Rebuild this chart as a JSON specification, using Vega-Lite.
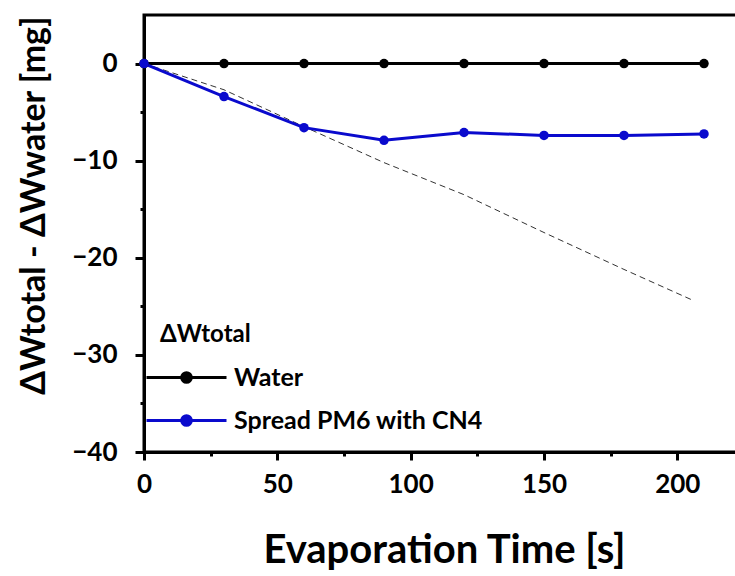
{
  "$schema": "https://vega.github.io/schema/vega-lite/v6.json",
  "width": 600,
  "height": 437,
  "padding": {"left": 17, "top": 15, "right": 0, "bottom": 5},
  "background": "white",
  "config": {
    "view": {"stroke": "black", "strokeWidth": 3},
    "font": "Lato",
    "axis": {"grid": false}
  },
  "datasets": {
    "main": [
      {"series": "Water", "t": 0, "v": 0},
      {"series": "Water", "t": 30, "v": 0},
      {"series": "Water", "t": 60, "v": 0},
      {"series": "Water", "t": 90, "v": 0},
      {"series": "Water", "t": 120, "v": 0},
      {"series": "Water", "t": 150, "v": 0},
      {"series": "Water", "t": 180, "v": 0},
      {"series": "Water", "t": 210, "v": 0},
      {"series": "Spread PM6 with CN4", "t": 0, "v": 0},
      {"series": "Spread PM6 with CN4", "t": 30, "v": -3.4},
      {"series": "Spread PM6 with CN4", "t": 60, "v": -6.6},
      {"series": "Spread PM6 with CN4", "t": 90, "v": -7.9},
      {"series": "Spread PM6 with CN4", "t": 120, "v": -7.1},
      {"series": "Spread PM6 with CN4", "t": 150, "v": -7.4},
      {"series": "Spread PM6 with CN4", "t": 180, "v": -7.4},
      {"series": "Spread PM6 with CN4", "t": 210, "v": -7.25}
    ],
    "ref": [
      {"t": 0, "v": 0},
      {"t": 30, "v": -2.7},
      {"t": 60, "v": -6.5},
      {"t": 90, "v": -10.2},
      {"t": 120, "v": -13.5},
      {"t": 150, "v": -17.4},
      {"t": 180, "v": -21.2},
      {"t": 206, "v": -24.4}
    ]
  },
  "resolve": {"axis": {"x": "independent", "y": "independent"}},
  "layer": [
    {
      "data": {"name": "ref"},
      "mark": {"type": "line", "color": "#333333", "strokeWidth": 1, "strokeDash": [6, 4]},
      "encoding": {
        "x": {
          "field": "t", "type": "quantitative",
          "scale": {"domain": [0, 225], "nice": false, "zero": false},
          "axis": {
            "orient": "bottom", "title": null, "labels": false, "domain": false,
            "values": [25, 75, 125, 175],
            "tickSize": 4, "tickWidth": 3, "tickColor": "black"
          }
        },
        "y": {
          "field": "v", "type": "quantitative",
          "scale": {"domain": [-40, 5], "nice": false, "zero": false},
          "axis": {
            "orient": "left", "title": null, "labels": false, "domain": false,
            "values": [-35, -25, -15, -5],
            "tickSize": 4, "tickWidth": 3, "tickColor": "black"
          }
        }
      }
    },
    {
      "data": {"name": "main"},
      "mark": {"type": "line", "strokeWidth": 3},
      "encoding": {
        "x": {
          "field": "t", "type": "quantitative",
          "axis": {
            "orient": "bottom",
            "title": "Evaporation Time [s]",
            "values": [0, 50, 100, 150, 200],
            "labelFont": "Lato", "labelFontSize": 26, "labelFontWeight": "bold", "labelColor": "black",
            "labelPadding": 11, "labelFlush": false,
            "tickSize": 8, "tickWidth": 3, "tickColor": "black",
            "domainColor": "black", "domainWidth": 3,
            "titleFont": "Lato", "titleFontSize": 40, "titleFontWeight": "bold", "titleColor": "black",
            "titlePadding": 33
          }
        },
        "y": {
          "field": "v", "type": "quantitative",
          "axis": {
            "orient": "left",
            "title": "ΔWtotal - ΔWwater [mg]",
            "values": [-40, -30, -20, -10, 0],
            "labelFont": "Lato", "labelFontSize": 26, "labelFontWeight": "bold", "labelColor": "black",
            "labelPadding": 18, "labelFlush": false,
            "tickSize": 9, "tickWidth": 3, "tickColor": "black",
            "domainColor": "black", "domainWidth": 3,
            "titleFont": "Lato", "titleFontSize": 34, "titleFontWeight": "bold", "titleColor": "black",
            "titlePadding": 20, "titleY": 190
          }
        },
        "color": {
          "field": "series", "type": "nominal",
          "scale": {"domain": ["Water", "Spread PM6 with CN4"], "range": ["#000000", "#0a0acd"]},
          "legend": {
            "orient": "none", "legendX": 16, "legendY": 308,
            "title": "ΔWtotal",
            "titleFont": "Lato", "titleFontSize": 24, "titleFontWeight": "bold", "titleColor": "black",
            "titlePadding": 18,
            "labelFont": "Lato", "labelFontSize": 25, "labelFontWeight": "bold", "labelColor": "black",
            "labelOffset": 35, "labelLimit": 400,
            "symbolType": "M-4,0L4,0M-0.48,0A0.48,0.48 0 1,1 0.48,0A0.48,0.48 0 1,1 -0.48,0Z",
            "symbolSize": 400, "symbolStrokeWidth": 3, "symbolOffset": 14,
            "rowPadding": 17,
            "encode": {"symbols": {"update": {"fill": {"scale": "color", "field": "value"}, "opacity": {"value": 1}}}}
          }
        }
      }
    },
    {
      "data": {"name": "main"},
      "mark": {"type": "point", "filled": true, "size": 90, "opacity": 1},
      "encoding": {
        "x": {"field": "t", "type": "quantitative", "axis": null},
        "y": {"field": "v", "type": "quantitative", "axis": null},
        "color": {"field": "series", "type": "nominal"}
      }
    }
  ]
}
